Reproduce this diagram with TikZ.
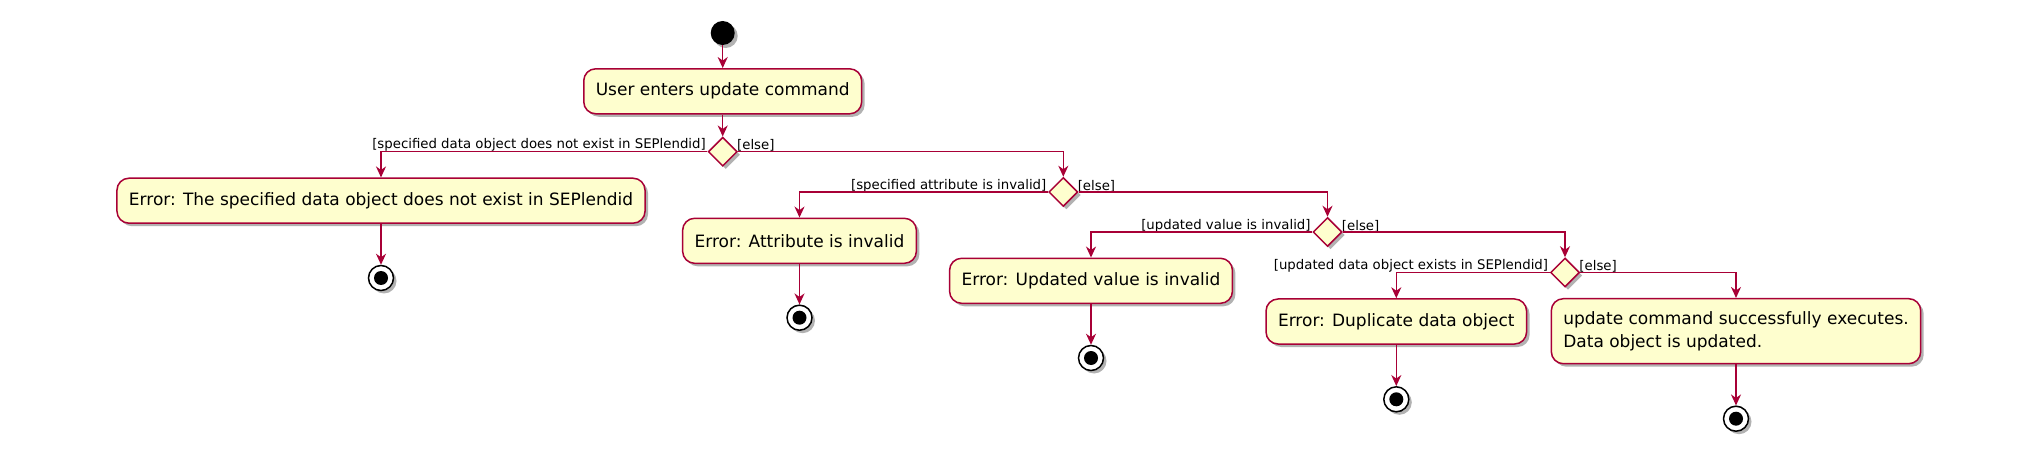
\documentclass[tikz,border=0pt]{standalone}
\usepackage{fontspec}
\setmainfont{DejaVu Sans}
\usetikzlibrary{shapes.geometric,arrows.meta,shadows}
\definecolor{umlred}{HTML}{A80036}
\definecolor{umlfill}{HTML}{FEFECE}
\tikzset{
  shad/.style={drop shadow={shadow xshift=3pt, shadow yshift=-3pt, opacity=0.3, fill=black}},
  act/.style={rectangle, rounded corners=12pt, draw=umlred, fill=umlfill, line width=1.5pt,
    inner xsep=12pt, inner ysep=0pt, minimum height=45pt, font=\fontsize{17}{22.3}\selectfont, shad},
  dec/.style={diamond, draw=umlred, fill=umlfill, line width=1.5pt, minimum width=29pt,
    minimum height=29pt, inner sep=0pt, shad},
  lbl/.style={inner sep=0pt, font=\fontsize{13.3}{16}\selectfont},
  flow/.style={draw=umlred, line width=1.5pt, -{Stealth[length=11pt,width=10pt,inset=3.5pt]}},
  startdot/.style={circle, fill=black, minimum size=24pt, inner sep=0pt, shad},
  enddot/.style={circle, draw=black, line width=1.5pt, fill=white, minimum size=25pt, inner sep=0pt, shad,
    path picture={\fill[black] (path picture bounding box.center) circle (7pt);}}
}
\begin{document}
\begin{tikzpicture}[x=1pt,y=-1pt]
\useasboundingbox (0,0) rectangle (2040,462);
% nodes
\node[startdot] (st) at (722.7,33) {};
\node[act] (B0) at (722.7,91.3) {User enters update command};
\node[dec] (D1) at (722.7,151.7) {};
\node[act] (E1) at (381,200.7) {Error: The specified data object does not exist in SEPlendid};
\node[enddot] (F1) at (381,278) {};
\node[dec] (D2) at (1063.3,192) {};
\node[act] (E2) at (799.5,240.8) {Error: Attribute is invalid};
\node[enddot] (F2) at (799.5,317.7) {};
\node[dec] (D3) at (1327.5,232) {};
\node[act] (E3) at (1091,280.8) {Error: Updated value is invalid};
\node[enddot] (F3) at (1091,358) {};
\node[dec] (D4) at (1565,272.5) {};
\node[act] (E4) at (1396.3,321.5) {Error: Duplicate data object};
\node[enddot] (F4) at (1396.3,399.3) {};
\node[act, align=left, minimum height=65pt] (S) at (1736,331.2) {update command successfully executes.\\Data object is updated.};
\node[enddot] (F5) at (1736,418.7) {};
% labels
\node[lbl, anchor=south east] (L1) at ([xshift=-1.5pt]D1.west) {[specified data object does not exist in SEPlendid]};
\node[lbl, anchor=south west] (R1) at ([xshift=-1pt]D1.east) {[else]};
\node[lbl, anchor=south east] (L2) at ([xshift=-1.5pt]D2.west) {[specified attribute is invalid]};
\node[lbl, anchor=south west] (R2) at ([xshift=-1pt]D2.east) {[else]};
\node[lbl, anchor=south east] (L3) at ([xshift=-1.5pt]D3.west) {[updated value is invalid]};
\node[lbl, anchor=south west] (R3) at ([xshift=-1pt]D3.east) {[else]};
\node[lbl, anchor=south east] (L4) at ([xshift=-1.5pt]D4.west) {[updated data object exists in SEPlendid]};
\node[lbl, anchor=south west] (R4) at ([xshift=-1pt]D4.east) {[else]};
% connectors
\draw[flow] (st) -- (B0);
\draw[flow] (B0) -- (D1);
\draw[flow] (D1.west) -| (E1.north);
\draw[flow] (D1.east) -| (D2.north);
\draw[flow] (E1) -- (F1);
\draw[flow] (D2.west) -| (E2.north);
\draw[flow] (D2.east) -| (D3.north);
\draw[flow] (E2) -- (F2);
\draw[flow] (D3.west) -| (E3.north);
\draw[flow] (D3.east) -| (D4.north);
\draw[flow] (E3) -- (F3);
\draw[flow] (D4.west) -| (E4.north);
\draw[flow] (D4.east) -| (S.north);
\draw[flow] (E4) -- (F4);
\draw[flow] (S) -- (F5);
\end{tikzpicture}
\end{document}
